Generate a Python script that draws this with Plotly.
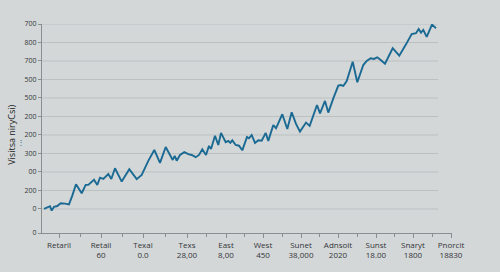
import plotly.graph_objects as go

# ---- data ----
day = [2, 6.3, 8, 9.7, 12, 15.3, 18.7, 23, 27, 30.3, 34, 39.7, 43.7, 46.3, 52, 55.3, 58, 61.3,
       66.3, 69.3, 73, 79.7, 87.3, 94.7, 99.7, 106.3, 112.3, 118, 123.7, 130.7, 132.7, 134.7,
       138, 142.3, 146.3, 149.7, 153.7, 157, 160.3, 164, 167, 169, 173, 176.3, 179, 183.7,
       186.3, 188.3, 190.3, 193.7, 197, 200.3, 205, 207, 209.7, 213, 216.3, 219.7, 223.7,
       226.3, 231.3, 234, 240.3, 245.3, 249.7, 254, 258, 264, 267.7, 275, 278, 283, 286.3,
       291.3, 296.3, 298.7, 301.3, 304.7, 310.7, 315.3, 321.3, 324.7, 328.7, 332, 335.3,
       338.7, 343, 350.7, 357.3, 364, 369.7, 374, 376.7, 379, 381.3, 384.7, 390, 394]
visits = [0, 11, 15, -9, 12, 16, 31, 29, 25, 72, 134, 85, 130, 130, 158, 130, 169, 162,
          189, 162, 220, 148, 215, 161, 184, 260, 319, 249, 335, 265, 287, 261,
          292, 307, 296, 292, 280, 292, 323, 292, 341, 324, 396, 346, 411, 361,
          368, 357, 371, 346, 342, 317, 389, 382, 400, 357, 371, 369, 411,
          368, 454, 436, 512, 432, 523, 460, 418, 467, 449, 562, 517, 584, 521,
          598, 667, 670, 665, 692, 796, 685, 778, 800, 815, 811, 820,
          805, 785, 869, 829, 890, 946, 950, 973, 953, 968, 930, 997, 977]

x_tick_vals = [17, 59, 101, 145, 184, 221, 259, 296, 334, 371, 409]
x_tick_top = ["Retaril", "Retail", "Texal", "Texs", "East", "West", "Sunet", "Adnsoit",
              "Sunst", "Snaryt", "Pnorcit"]
x_tick_bottom = ["", "60", "0.0", "28,00", "8,00", "450", "38,000", "2020", "18.00",
                 "1800", "18830"]

y_tick_vals = [-130, 0, 100, 200, 300, 400, 500, 600, 700, 800, 900, 1000]
y_tick_text = ["0", "0", "200", "00", "300", "200", "200", "500", "500", "700", "800", "700"]

y_title = "Visitsa niryCsi)"

BG = "#d3d7d8"
GRID = "#bcc0c1"
AXIS = "#8a8e90"
TXT = "#333638"
LINE = "#1b6a93"

fig = go.Figure()
fig.add_trace(go.Scatter(x=day, y=visits, mode="lines",
                         line=dict(color=LINE, width=1.9), hoverinfo="skip",
                         showlegend=False))

# gridlines that stop short of the axis end
grid_end = max(day) + 2
for v in y_tick_vals[1:]:
    fig.add_shape(type="line", xref="x", yref="y", x0=0, x1=grid_end, y0=v, y1=v,
                  line=dict(color=GRID, width=1), layer="below")

minor_vals = [(a + b) / 2 for a, b in zip(x_tick_vals[:-1], x_tick_vals[1:])]

fig.update_layout(
    width=500, height=272,
    margin=dict(l=42, r=48, t=24, b=39),
    paper_bgcolor=BG, plot_bgcolor=BG,
    font=dict(family="Open Sans, Roboto, sans-serif", color=TXT, size=8),
    xaxis=dict(range=[0, 410], showgrid=False, zeroline=False,
               showline=True, linecolor=AXIS, linewidth=1,
               ticks="outside", ticklen=4, tickcolor=AXIS,
               tickmode="array", tickvals=x_tick_vals,
               ticktext=[f"{a}<br>{b}" for a, b in zip(x_tick_top, x_tick_bottom)],
               tickfont=dict(size=8, color=TXT),
               minor=dict(tickvals=minor_vals, ticks="outside", ticklen=3,
                          tickcolor=AXIS, showgrid=False)),
    yaxis=dict(range=[-130, 1000], showgrid=False, zeroline=False,
               showline=True, linecolor=AXIS, linewidth=1,
               ticks="outside", ticklen=3, tickcolor=AXIS,
               tickmode="array", tickvals=y_tick_vals, ticktext=y_tick_text,
               tickfont=dict(size=7, color=TXT)),
)

fig.add_annotation(text=y_title, textangle=-90, xref="paper", yref="paper",
                   x=-30 / 410, y=0.47, xanchor="center", yanchor="middle",
                   showarrow=False, font=dict(size=9, color="#222"))
fig.add_annotation(text="⋮", xref="paper", yref="paper",
                   x=-21 / 410, y=0.44, xanchor="center", yanchor="middle",
                   showarrow=False, font=dict(size=8, color=LINE))

fig.write_html("out.html")
